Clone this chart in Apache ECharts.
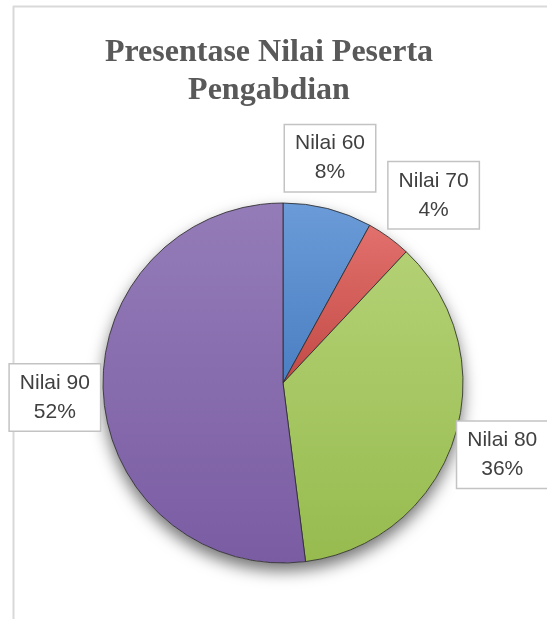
<!DOCTYPE html>
<html>
<head>
<meta charset="utf-8">
<script src="https://cdn.jsdelivr.net/npm/echarts@6/dist/echarts.min.js"></script>
<style>
  html, body { margin: 0; padding: 0; background: #fff; }
  #chart { width: 547px; height: 619px; }
</style>
</head>
<body>
<div id="chart"></div>
<script>
// ---- data ----
const categories = ['Nilai 60', 'Nilai 70', 'Nilai 80', 'Nilai 90'];
const values = [8, 4, 36, 52];
const titleText = 'Presentase Nilai Peserta\nPengabdian';

// ---- style ----
const CX = 283, CY = 383, R = 180, LABEL_GAP = 9;
const sliceColors = [
  ['#6b9bd8', '#4a7fc2'],
  ['#e2706c', '#c24a46'],
  ['#b3d174', '#97bb4f'],
  ['#947cb8', '#7a5ca3']
];

const total = values.reduce((a, b) => a + b, 0);
const midAngles = [];
let acc = 0;
values.forEach(v => { midAngles.push((acc + v / 2) / total * 2 * Math.PI); acc += v; });

function s(t) {
  const m = Math.min(Math.max((Math.abs(t) - 0.25) / 0.3, 0), 1);
  return t < 0 ? -m : m;
}

const chart = echarts.init(document.getElementById('chart'), null, { renderer: 'canvas' });
chart.setOption({
  backgroundColor: '#fff',
  animation: false,
  graphic: [
    { type: 'line', shape: { x1: 13, y1: 6.5, x2: 547, y2: 6.5 }, style: { stroke: '#d9d9d9', lineWidth: 2 } },
    { type: 'line', shape: { x1: 13.5, y1: 6, x2: 13.5, y2: 619 }, style: { stroke: '#d9d9d9', lineWidth: 2 } },
    { type: 'text', x: 269, y: 34, style: {
        text: titleText, textAlign: 'center', textVerticalAlign: 'top',
        font: 'bold 32px "Liberation Serif"', lineHeight: 38, fill: '#595959'
    } }
  ],
  series: [
    {
      type: 'pie', silent: true, z: 1,
      center: [CX, CY], radius: R,
      label: { show: false }, labelLine: { show: false },
      itemStyle: { color: '#fff', shadowBlur: 16, shadowOffsetY: 8, shadowColor: 'rgba(0,0,0,0.55)' },
      data: [{ value: total, name: '' }]
    },
    {
      type: 'pie', z: 2,
      center: [CX, CY], radius: R,
      startAngle: 90, clockwise: true,
      itemStyle: { borderColor: 'rgba(45,45,45,0.85)', borderWidth: 1 },
      label: {
        show: true, position: 'outside',
        formatter: '{b}\n{d}%',
        fontFamily: 'Liberation Sans', fontSize: 21, lineHeight: 29,
        color: '#404040', align: 'center',
        width: 72, overflow: 'none',
        backgroundColor: '#fff', borderColor: '#c3c3c3', borderWidth: 1.5,
        padding: [4, 9]
      },
      labelLine: { show: false },
      labelLayout: function (p) {
        const a = midAngles[p.dataIndex];
        const ux = Math.sin(a), uy = -Math.cos(a);
        const hw = p.labelRect.width / 2, hh = p.labelRect.height / 2;
        return {
          x: CX + (R + LABEL_GAP) * ux + 0.85 * hw * s(ux),
          y: CY + (R + LABEL_GAP) * uy + 1.25 * hh * uy,
          align: 'center', verticalAlign: 'middle'
        };
      },
      data: categories.map((c, i) => ({
        name: c, value: values[i],
        itemStyle: {
          color: new echarts.graphic.LinearGradient(0, 0, 0, 1, [
            { offset: 0, color: sliceColors[i][0] },
            { offset: 1, color: sliceColors[i][1] }
          ])
        }
      }))
    }
  ]
});
</script>
</body>
</html>
